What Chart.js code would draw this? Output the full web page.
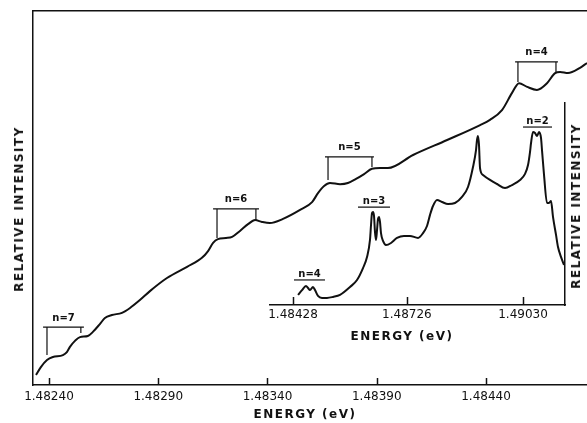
<!DOCTYPE html>
<html lang="en">
<head>
<meta charset="UTF-8">
<title>Exciton series</title>
<script src="https://cdn.jsdelivr.net/npm/chart.js"></script>
<style>
    html, body { margin: 0; padding: 0; background: #fff; }
    .stage { position: relative; width: 587px; height: 423px; overflow: hidden; }
    #mainChart { position: absolute; left: 0; top: 0; }
    #insetChart { position: absolute; left: 255px; top: 95px; }
    .axis-title {
        position: absolute;
        font-family: "DejaVu Sans", sans-serif;
        font-weight: bold;
        font-size: 12px;
        letter-spacing: 1.5px;
        color: #111;
        white-space: nowrap;
        line-height: 1;
        transform: translate(-50%, -50%);
    }
    .axis-title.vertical { transform: translate(-50%, -50%) rotate(-90deg); }
</style>
</head>
<body>
<div class="stage">
    <canvas id="mainChart" width="587" height="423"></canvas>
    <canvas id="insetChart" width="332" height="240"></canvas>
    <div class="axis-title vertical" style="left:19px; top:209px;">RELATIVE INTENSITY</div>
    <div class="axis-title" style="left:305px; top:414px;">ENERGY (eV)</div>
    <div class="axis-title" style="left:402px; top:336px;">ENERGY (eV)</div>
    <div class="axis-title vertical" style="left:576px; top:206px;">RELATIVE INTENSITY</div>
</div>
<script>
// main spectrum (outer axes)
const mainEnergy = [
    1.482341, 1.482363, 1.482391, 1.482418, 1.482464, 1.482482, 1.482496, 1.482519,
    1.482542, 1.482578, 1.482601, 1.482633, 1.482656, 1.482688, 1.482734, 1.482771,
    1.482816, 1.482862, 1.482940, 1.483032, 1.483100, 1.483128, 1.483151, 1.483173,
    1.483210, 1.483238, 1.483274, 1.483311, 1.483343, 1.483375, 1.483411, 1.483471,
    1.483549, 1.483604, 1.483631, 1.483659, 1.483686, 1.483732, 1.483768, 1.483805,
    1.483842, 1.483878, 1.483915, 1.483951, 1.484066, 1.484222, 1.484373, 1.484418,
    1.484473, 1.484519, 1.484551, 1.484588, 1.484633, 1.484679, 1.484716, 1.484739,
    1.484775, 1.484830, 1.484862
];
const mainIntensity = [
    2.7, 4.8, 6.7, 7.5, 8.0, 8.8, 10.2, 11.8,
    12.8, 13.1, 14.2, 16.3, 17.9, 18.7, 19.3, 20.6,
    22.7, 25.1, 28.6, 31.6, 34.0, 35.8, 38.0, 39.0,
    39.3, 39.6, 41.2, 43.0, 44.1, 43.6, 43.3, 44.4,
    46.8, 48.9, 51.3, 53.2, 54.0, 53.7, 54.0, 55.1,
    56.4, 57.8, 58.0, 58.0, 61.5, 65.5, 69.5, 70.9,
    73.5, 78.1, 80.7, 79.7, 78.9, 80.7, 83.4, 83.7,
    83.4, 84.8, 86.1
];
const mainTicks = [1.48240, 1.48290, 1.48340, 1.48390, 1.48440];

// level markers on the main spectrum
const mainLevelLabels = ['n=7', 'n=6', 'n=5', 'n=4'];
const mainLevelFrom = [1.482373, 1.483151, 1.483663, 1.484533];
const mainLevelTo = [1.482560, 1.483361, 1.483887, 1.484729];
const mainLevelHeight = [15.5, 47.1, 61.0, 86.4];
const mainLevelLeft = [1.482391, 1.483169, 1.483677, 1.484546];
const mainLevelLeftBase = [8.0, 39.3, 54.8, 81.0];
const mainLevelRight = [1.482546, 1.483347, 1.483878, 1.484720];
const mainLevelRightBase = [13.9, 44.1, 58.3, 83.7];

// inset spectrum
const insetEnergy = [
    1.484411, 1.484516, 1.484620, 1.484673, 1.484725, 1.484803, 1.484856, 1.484934,
    1.485039, 1.485170, 1.485327, 1.485510, 1.485772, 1.485955, 1.486112, 1.486217,
    1.486295, 1.486322, 1.486348, 1.486374, 1.486400, 1.486426, 1.486452, 1.486479,
    1.486505, 1.486531, 1.486557, 1.486583, 1.486636, 1.486714, 1.486845, 1.487002,
    1.487185, 1.487342, 1.487552, 1.487683, 1.487787, 1.487866, 1.487944, 1.488049,
    1.488180, 1.488337, 1.488520, 1.488703, 1.488860, 1.488991, 1.489070, 1.489096,
    1.489122, 1.489148, 1.489175, 1.489253, 1.489436, 1.489620, 1.489829, 1.490012,
    1.490222, 1.490353, 1.490431, 1.490483, 1.490510, 1.490562, 1.490614, 1.490667,
    1.490719, 1.490771, 1.490797, 1.490850, 1.490928, 1.490980, 1.491033, 1.491085,
    1.491164, 1.491216, 1.491294, 1.491373
];
const insetIntensity = [
    5.0, 7.4, 9.4, 8.4, 7.4, 8.9, 7.4, 4.5,
    3.5, 3.5, 4.0, 5.0, 8.9, 12.4, 18.3, 23.8,
    32.2, 39.6, 45.5, 46.0, 44.1, 36.1, 32.2, 37.1,
    42.6, 43.6, 41.1, 35.6, 31.7, 29.7, 30.7, 33.2,
    34.2, 34.2, 33.2, 35.6, 39.1, 44.6, 49.0, 52.0,
    51.0, 50.0, 50.5, 53.5, 58.4, 68.3, 76.7, 81.7,
    83.7, 79.2, 67.8, 64.4, 61.9, 59.9, 57.9, 59.4,
    61.9, 64.9, 69.3, 75.7, 80.2, 85.6, 85.1, 83.7,
    85.6, 82.7, 76.7, 64.4, 50.5, 50.5, 51.5, 43.6,
    34.7, 28.7, 23.8, 19.8
];
const insetTicks = [1.48428, 1.48726, 1.49030];

const insetLevelLabels = ['n=4', 'n=3', 'n=2'];
const insetLevelFrom = [1.484306, 1.485981, 1.490300];
const insetLevelTo = [1.485117, 1.486819, 1.491059];
const insetLevelHeight = [12.4, 48.5, 88.1];

const INK = '#111';
const tickFont = { family: 'DejaVu Sans', size: 12 };

// short tick marks drawn upward from the x axis, at the scale's tick values
const innerTicks = {
    id: 'innerTicks',
    afterDraw(chart, args, opts) {
        const scale = chart.scales[opts.scaleId];
        const ctx = chart.ctx;
        ctx.save();
        ctx.strokeStyle = INK;
        ctx.lineWidth = 1.5;
        scale.ticks.forEach(t => {
            const px = Math.round(scale.getPixelForValue(t.value)) + 0.5;
            ctx.beginPath();
            ctx.moveTo(px, scale.top);
            ctx.lineTo(px, scale.top - opts.length);
            ctx.stroke();
        });
        ctx.restore();
    }
};

// "n=.." captions above the level bars
const levelLabels = {
    id: 'levelLabels',
    afterDatasetsDraw(chart, args, opts) {
        const ctx = chart.ctx;
        const xs = chart.scales.x, ys = chart.scales.y;
        ctx.save();
        ctx.fillStyle = INK;
        ctx.font = 'bold 10px "DejaVu Sans"';
        ctx.textAlign = 'center';
        ctx.textBaseline = 'middle';
        opts.labels.forEach((label, i) => {
            const px = xs.getPixelForValue((opts.from[i] + opts.to[i]) / 2);
            const py = ys.getPixelForValue(opts.height[i]) - opts.offset;
            ctx.fillText(label, px, py);
        });
        ctx.restore();
    }
};

function toPoints(xs, ys) {
    return xs.map((x, i) => ({ x: x, y: ys[i] }));
}

// bracket: bar plus two drop lines, gaps between the pieces
const mainBrackets = mainLevelLabels.map((label, i) => ({
    data: [
        { x: mainLevelFrom[i], y: mainLevelHeight[i] },
        { x: mainLevelTo[i], y: mainLevelHeight[i] },
        { x: mainLevelTo[i], y: null },
        { x: mainLevelLeft[i], y: mainLevelLeftBase[i] },
        { x: mainLevelLeft[i], y: mainLevelHeight[i] },
        { x: mainLevelLeft[i], y: null },
        { x: mainLevelRight[i], y: mainLevelRightBase[i] },
        { x: mainLevelRight[i], y: mainLevelHeight[i] }
    ],
    borderColor: INK,
    borderWidth: 1.2,
    pointRadius: 0,
    tension: 0,
    xAxisID: 'x',
    yAxisID: 'y'
}));

const insetBrackets = insetLevelLabels.map((label, i) => ({
    data: [
        { x: insetLevelFrom[i], y: insetLevelHeight[i] },
        { x: insetLevelTo[i], y: insetLevelHeight[i] }
    ],
    borderColor: INK,
    borderWidth: 1.2,
    pointRadius: 0,
    tension: 0,
    xAxisID: 'x',
    yAxisID: 'y'
}));

new Chart(document.getElementById('mainChart'), {
    type: 'line',
    data: {
        datasets: [{
            data: toPoints(mainEnergy, mainIntensity),
            borderColor: INK,
            borderWidth: 2,
            pointRadius: 0,
            cubicInterpolationMode: 'monotone',
            xAxisID: 'x',
            yAxisID: 'y'
        }].concat(mainBrackets)
    },
    options: {
        responsive: false,
        animation: false,
        layout: { padding: { top: 11, left: 0, right: 0, bottom: 0 } },
        plugins: {
            legend: { display: false },
            tooltip: { enabled: false },
            innerTicks: { scaleId: 'x', length: 7 },
            levelLabels: {
                labels: mainLevelLabels, from: mainLevelFrom, to: mainLevelTo,
                height: mainLevelHeight, offset: 9
            }
        },
        scales: {
            x: {
                type: 'linear',
                position: 'bottom',
                min: 1.482327,
                max: 1.484862,
                afterBuildTicks: s => { s.ticks = mainTicks.map(v => ({ value: v })); },
                afterFit: s => { s.height = 38; },
                ticks: {
                    callback: v => Number(v).toFixed(5),
                    font: tickFont, color: INK, padding: 5,
                    maxRotation: 0, autoSkip: false
                },
                grid: { display: false, drawTicks: false },
                border: { display: true, color: INK, width: 1.5 }
            },
            xTop: {
                type: 'linear',
                position: 'top',
                min: 1.482327,
                max: 1.484862,
                afterFit: s => { s.height = 0; },
                ticks: { display: false },
                grid: { display: false, drawTicks: false },
                border: { display: true, color: INK, width: 1.5 }
            },
            y: {
                min: 0,
                max: 100,
                afterFit: s => { s.width = 33; },
                ticks: { display: false },
                grid: { display: false, drawTicks: false },
                border: { display: true, color: INK, width: 1.5 }
            }
        }
    },
    plugins: [innerTicks, levelLabels]
});

new Chart(document.getElementById('insetChart'), {
    type: 'line',
    data: {
        datasets: [{
            data: toPoints(insetEnergy, insetIntensity),
            borderColor: INK,
            borderWidth: 2,
            pointRadius: 0,
            cubicInterpolationMode: 'monotone',
            xAxisID: 'x',
            yAxisID: 'y'
        }].concat(insetBrackets)
    },
    options: {
        responsive: false,
        animation: false,
        layout: { padding: { top: 8, left: 15, right: 22, bottom: 0 } },
        plugins: {
            legend: { display: false },
            tooltip: { enabled: false },
            innerTicks: { scaleId: 'x', length: 8 },
            levelLabels: {
                labels: insetLevelLabels, from: insetLevelFrom, to: insetLevelTo,
                height: insetLevelHeight, offset: 6
            }
        },
        scales: {
            x: {
                type: 'linear',
                position: 'bottom',
                min: 1.483678,
                max: 1.491399,
                afterBuildTicks: s => { s.ticks = insetTicks.map(v => ({ value: v })); },
                afterFit: s => { s.height = 30; },
                ticks: {
                    callback: v => Number(v).toFixed(5),
                    font: tickFont, color: INK, padding: 3,
                    maxRotation: 0, autoSkip: false
                },
                grid: { display: false, drawTicks: false },
                border: { display: true, color: INK, width: 1.5 }
            },
            y: {
                position: 'right',
                min: 0,
                max: 100,
                afterFit: s => { s.width = 0; },
                ticks: { display: false },
                grid: { display: false, drawTicks: false },
                border: { display: true, color: INK, width: 1.5 }
            }
        }
    },
    plugins: [innerTicks, levelLabels]
});
</script>
</body>
</html>
